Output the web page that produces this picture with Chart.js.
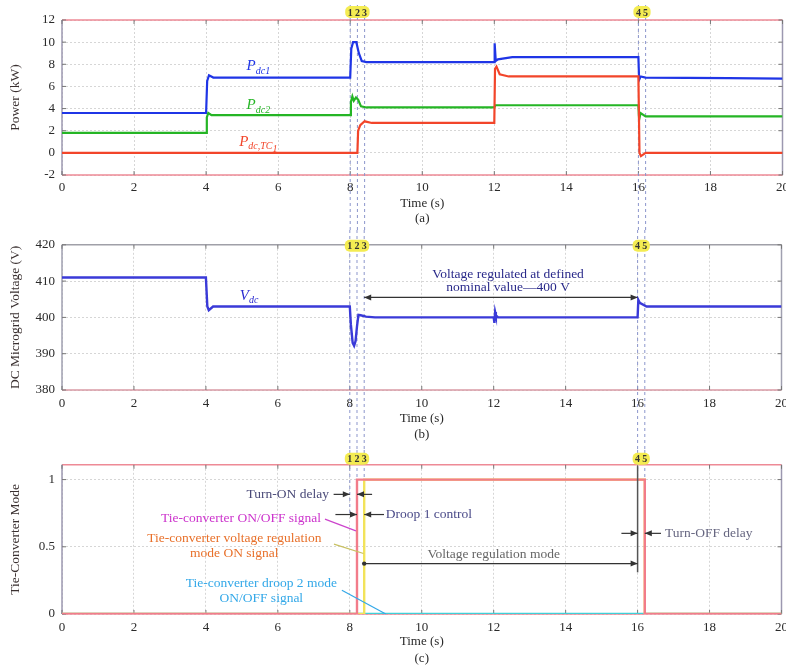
<!DOCTYPE html>
<html lang="en">
<head>
<meta charset="UTF-8">
<title>Tie-converter mode simulation</title>
<script src="https://cdn.jsdelivr.net/npm/chart.js@4.4.1/dist/chart.umd.min.js"></script>
<style>
  html, body { margin: 0; padding: 0; background: #fff; }
  body { width: 786px; height: 671px; overflow: hidden; position: relative; }
  canvas { position: absolute; left: 0; }
</style>
</head>
<body>
<canvas id="chartA" width="794" height="230" style="top:0"></canvas>
<canvas id="chartB" width="794" height="220" style="top:230px"></canvas>
<canvas id="chartC" width="794" height="221" style="top:450px"></canvas>
<script>
// ---- values ----
const timeTicks = [0, 2, 4, 6, 8, 10, 12, 14, 16, 18, 20];
const powerTicks = [-2, 0, 2, 4, 6, 8, 10, 12];
const voltTicks = [380, 390, 400, 410, 420];
const modeTicks = [0, 0.5, 1];

// (a) power, kW
const pdc1Time = [0, 4, 4.03, 4.08, 4.2, 8, 8.03, 8.08, 8.17, 8.24, 8.32, 8.45, 12, 12.01, 12.04, 12.1, 12.5, 16, 16.02, 16.06, 16.2, 18.5, 20];
const pdc1Val  = [3.6, 3.6, 6.5, 7.0, 6.8, 6.8, 9.4, 10.0, 10.0, 9.0, 8.3, 8.2, 8.2, 9.9, 8.3, 8.45, 8.65, 8.65, 6.6, 6.9, 6.8, 6.75, 6.7];
const pdc2Time = [0, 4, 4.02, 4.06, 4.15, 8, 8.02, 8.06, 8.1, 8.16, 8.22, 8.3, 8.45, 12, 12.03, 12.3, 16, 16.02, 16.06, 16.2, 20];
const pdc2Val  = [1.8, 1.8, 3.2, 3.6, 3.4, 3.4, 4.6, 5.1, 4.7, 5.0, 4.8, 4.2, 4.1, 4.1, 4.3, 4.3, 4.3, 3.0, 3.6, 3.3, 3.3];
const ptcTime  = [0, 8.2, 8.22, 8.28, 8.4, 8.6, 12, 12.02, 12.06, 12.15, 12.4, 16, 16.03, 16.07, 16.2, 20];
const ptcVal   = [0, 0, 2.0, 2.5, 2.85, 2.7, 2.7, 7.6, 7.8, 7.1, 6.9, 6.9, 0, -0.3, 0, 0];

// (b) DC microgrid voltage, V
const vdcTime = [0, 4, 4.04, 4.08, 4.2, 8, 8.03, 8.08, 8.12, 8.16, 8.2, 8.24, 8.3, 8.45, 8.7, 12, 12.02, 12.04, 12.06, 12.12, 16, 16.02, 16.06, 16.25, 20];
const vdcVal  = [411, 411, 403, 402, 403, 403, 398, 393, 392.2, 393.5, 397.5, 400.7, 400.6, 400.2, 400, 400, 398.5, 401.5, 400.6, 400, 400, 404.8, 404, 403, 403];

// (c) tie-converter mode signals
const onOffTime  = [0, 8.2, 8.2, 16.2, 16.2, 20];
const onOffVal   = [0, 0, 1, 1, 0, 0];
const vregTime   = [0, 8.4, 8.4, 16.2, 16.2, 20];
const vregVal    = [0, 0, 1, 1, 0, 0];
const droop2Time = [0, 20];
const droop2Val  = [0, 0];

// event instants 1..5
const eventTimes = [8, 8.2, 8.4, 16, 16.2];
const eventLabels = ['1', '2', '3', '4', '5'];
const eventGroups = [[0, 1, 2], [3, 4]];

const SERIF = "'Liberation Serif', 'DejaVu Serif', serif";

function pts(t, v) { return t.map((x, i) => ({ x: x, y: v[i] })); }

function arrowHead(ctx, x1, y1, x2, y2) {
    const a = Math.atan2(y2 - y1, x2 - x1);
    ctx.beginPath();
    ctx.moveTo(x2, y2);
    ctx.lineTo(x2 - 7 * Math.cos(a) + 3 * Math.sin(a), y2 - 7 * Math.sin(a) - 3 * Math.cos(a));
    ctx.lineTo(x2 - 7 * Math.cos(a) - 3 * Math.sin(a), y2 - 7 * Math.sin(a) + 3 * Math.cos(a));
    ctx.closePath();
    ctx.fill();
}

// plot frame + inward ticks
const framePlugin = {
    id: 'frame',
    beforeDatasetsDraw(chart, args, opts) {
        const { ctx, chartArea: a, scales: { x, y } } = chart;
        ctx.save();
        ctx.lineWidth = 1.5;
        const seg = (x1, y1, x2, y2, c) => { ctx.strokeStyle = c; ctx.beginPath(); ctx.moveTo(x1, y1); ctx.lineTo(x2, y2); ctx.stroke(); };
        seg(a.left, a.top, a.right, a.top, opts.top);
        seg(a.left, a.bottom, a.right, a.bottom, opts.bottom);
        seg(a.left, a.top, a.left, a.bottom, opts.side);
        seg(a.right, a.top, a.right, a.bottom, opts.side);
        ctx.lineWidth = 1;
        x.ticks.forEach(tk => {
            const px = x.getPixelForValue(tk.value);
            seg(px, a.bottom, px, a.bottom - 4, '#777');
            seg(px, a.top, px, a.top + 4, '#777');
        });
        y.ticks.forEach(tk => {
            const py = y.getPixelForValue(tk.value);
            seg(a.left, py, a.left + 4, py, '#777');
            seg(a.right, py, a.right - 4, py, '#777');
        });
        ctx.restore();
    }
};

// dashed event lines and the numbered yellow tags
const eventPlugin = {
    id: 'events',
    beforeDatasetsDraw(chart, args, opts) {
        const { ctx, scales: { x, y } } = chart;
        ctx.save();
        ctx.setLineDash([3, 3]);
        ctx.strokeStyle = '#8c96cc';
        ctx.lineWidth = 1;
        eventTimes.forEach((t, i) => {
            const px = x.getPixelForValue(t);
            const end = opts.stop ? y.getPixelForValue(opts.stop[i]) : chart.height;
            ctx.beginPath(); ctx.moveTo(px, opts.from); ctx.lineTo(px, end); ctx.stroke();
        });
        ctx.restore();
    },
    afterDraw(chart, args, opts) {
        const { ctx, chartArea: a, scales: { x } } = chart;
        ctx.save();
        const cy = a.top + opts.tag;
        eventGroups.forEach(g => {
            const x0 = x.getPixelForValue(eventTimes[g[0]]) - 5;
            const x1 = x.getPixelForValue(eventTimes[g[g.length - 1]]) + 5;
            ctx.fillStyle = '#f4ec52';
            ctx.beginPath();
            ctx.roundRect(x0, cy - 6, x1 - x0, 12, 5);
            ctx.fill();
            ctx.fillStyle = '#333';
            ctx.font = 'bold 10px ' + SERIF;
            ctx.textAlign = 'center';
            ctx.textBaseline = 'middle';
            g.forEach(i => ctx.fillText(eventLabels[i], x.getPixelForValue(eventTimes[i]), cy + 1));
        });
        ctx.restore();
    }
};

// text, arrows and leader lines
const notePlugin = {
    id: 'notes',
    afterDatasetsDraw(chart, args, opts) {
        const { ctx, scales: { x, y } } = chart;
        const X = t => x.getPixelForValue(t), Y = v => y.getPixelForValue(v);
        ctx.save();
        (opts.lines || []).forEach(l => {
            ctx.strokeStyle = l.color; ctx.lineWidth = l.width || 1.2;
            ctx.beginPath(); ctx.moveTo(X(l.t1), Y(l.v1)); ctx.lineTo(X(l.t2), Y(l.v2)); ctx.stroke();
        });
        (opts.arrows || []).forEach(r => {
            const x1 = X(r.t1), x2 = X(r.t2), py = Y(r.v);
            ctx.strokeStyle = r.color; ctx.fillStyle = r.color; ctx.lineWidth = 1.2;
            ctx.beginPath(); ctx.moveTo(x1, py); ctx.lineTo(x2, py); ctx.stroke();
            arrowHead(ctx, x1, py, x2, py);
            if (r.both) arrowHead(ctx, x2, py, x1, py);
            if (r.dot) { ctx.beginPath(); ctx.arc(x1, py, 2.2, 0, Math.PI * 2); ctx.fill(); }
        });
        ctx.textBaseline = 'middle';
        (opts.texts || []).forEach(s => {
            ctx.font = (s.size || 13.5) + 'px ' + SERIF;
            ctx.fillStyle = s.color;
            ctx.textAlign = s.align || 'center';
            ctx.fillText(s.text, X(s.t), Y(s.v));
        });
        (opts.symbols || []).forEach(s => {
            ctx.fillStyle = s.color;
            ctx.textAlign = 'left';
            const big = 'italic 15px ' + SERIF, small = 'italic 10px ' + SERIF;
            ctx.font = big; const w0 = ctx.measureText(s.main).width;
            ctx.font = small; const w1 = ctx.measureText(s.sub).width;
            const w2 = s.sub2 ? ctx.measureText(s.sub2).width : 0;
            let px = X(s.t) - (w0 + w1 + w2) / 2;
            const py = Y(s.v);
            ctx.font = big; ctx.fillText(s.main, px, py);
            ctx.font = small; ctx.fillText(s.sub, px + w0, py + 5);
            if (s.sub2) ctx.fillText(s.sub2, px + w0 + w1, py + 8);
        });
        ctx.restore();
    }
};

function baseOptions(cfg) {
    return {
        responsive: false,
        animation: false,
        events: [],
        layout: { padding: { top: cfg.padTop, right: 10, left: 0, bottom: 0 } },
        elements: { point: { radius: 0 }, line: { tension: 0 } },
        plugins: {
            legend: { display: false },
            tooltip: { enabled: false },
            frame: cfg.frame,
            events: cfg.events,
            notes: cfg.notes
        },
        scales: {
            x: {
                type: 'linear', min: 0, max: 20,
                afterBuildTicks: s => { s.ticks = timeTicks.map(v => ({ value: v })); },
                afterFit: s => { s.height = cfg.xHeight; },
                ticks: { font: { family: SERIF, size: 13 }, color: '#2a2a2a', padding: cfg.tickPad, maxRotation: 0 },
                grid: { color: '#d6d6d6', drawTicks: false },
                border: { display: false, dash: [2, 2] },
                title: {
                    display: true, text: ['Time (s)', cfg.caption], color: '#2a2a2a',
                    font: { family: SERIF, size: 13, lineHeight: cfg.lh },
                    padding: { top: 0, bottom: cfg.titlePad }
                }
            },
            y: {
                min: cfg.yMin, max: cfg.yMax,
                afterBuildTicks: s => { s.ticks = cfg.yTicks.map(v => ({ value: v })); },
                afterFit: s => { s.width = 62; },
                ticks: { font: { family: SERIF, size: 13 }, color: '#2a2a2a', padding: 7, callback: v => String(v) },
                grid: { color: '#d6d6d6', drawTicks: false },
                border: { display: false, dash: [2, 2] },
                title: {
                    display: true, text: cfg.yTitle, color: '#3a3030',
                    font: { family: SERIF, size: 13.5 },
                    padding: { top: 7, bottom: 0 }
                }
            }
        }
    };
}

const allPlugins = [framePlugin, eventPlugin, notePlugin];
const pinkFrame = { top: '#ee8a96', bottom: '#ee8a96', side: '#9c98b0' };

// (a) power
new Chart(document.getElementById('chartA'), {
    type: 'line',
    data: {
        datasets: [
            { data: pts(ptcTime, ptcVal), borderColor: '#f2452a', borderWidth: 2.2 },
            { data: pts(pdc2Time, pdc2Val), borderColor: '#25b525', borderWidth: 2.2 },
            { data: pts(pdc1Time, pdc1Val), borderColor: '#1f35e6', borderWidth: 2.2 }
        ]
    },
    options: baseOptions({
        padTop: 20, xHeight: 55, tickPad: 5, lh: 1.15, titlePad: 4,
        caption: '(a)', yMin: -2, yMax: 12, yTicks: powerTicks, yTitle: 'Power (kW)',
        frame: pinkFrame,
        events: { from: 5, tag: -8 },
        notes: {
            symbols: [
                { t: 5.45, v: 7.8, main: 'P', sub: 'dc1', color: '#1f35e6' },
                { t: 5.45, v: 4.3, main: 'P', sub: 'dc2', color: '#25b525' },
                { t: 5.45, v: 1.0, main: 'P', sub: 'dc,TC', sub2: '1', color: '#f2452a' }
            ]
        }
    }),
    plugins: allPlugins
});

// (b) DC microgrid voltage
new Chart(document.getElementById('chartB'), {
    type: 'line',
    data: {
        datasets: [
            { data: pts(vdcTime, vdcVal), borderColor: '#3a3ad8', borderWidth: 2.4 }
        ]
    },
    options: baseOptions({
        padTop: 11, xHeight: 60, tickPad: 6, lh: 1.2, titlePad: 8,
        caption: '(b)', yMin: 380, yMax: 420, yTicks: voltTicks, yTitle: 'DC Microgrid Voltage (V)',
        frame: { top: '#a0a0a8', bottom: '#d89aa4', side: '#a0a0b0' },
        events: { from: 0, tag: 1 },
        notes: {
            symbols: [{ t: 5.2, v: 406, main: 'V', sub: 'dc', color: '#2a2ad0' }],
            arrows: [{ t1: 8.4, t2: 16, v: 405.5, color: '#333', both: true }],
            texts: [
                { t: 12.4, v: 411.9, text: 'Voltage regulated at defined', color: '#2a2a8a' },
                { t: 12.4, v: 408.2, text: 'nominal value\u2014400 V', color: '#2a2a8a' }
            ]
        }
    }),
    plugins: allPlugins
});

// (c) tie-converter mode
new Chart(document.getElementById('chartC'), {
    type: 'line',
    data: {
        datasets: [
            { data: pts(onOffTime, onOffVal), borderColor: '#f27c8a', borderWidth: 2.4 },
            { data: pts(vregTime, vregVal), borderColor: '#f2e35a', borderWidth: 2.4 },
            { data: pts(droop2Time, droop2Val), borderColor: '#3fd0d8', borderWidth: 2.4 }
        ]
    },
    options: baseOptions({
        padTop: 13, xHeight: 57, tickPad: 6, lh: 1.3, titlePad: 4,
        caption: '(c)', yMin: 0, yMax: 1.11, yTicks: modeTicks, yTitle: 'Tie-Converter Mode',
        frame: pinkFrame,
        events: { from: 0, tag: -6, stop: [0.75, 1, 1, 1, 1] },
        notes: {
            lines: [
                { t1: 16, v1: 1.1, t2: 16, v2: 0.31, color: '#555', width: 1.5 },
                { t1: 7.31, v1: 0.706, t2: 8.17, v2: 0.618, color: '#cc44cc' },
                { t1: 7.56, v1: 0.52, t2: 8.38, v2: 0.45, color: '#c8c060' },
                { t1: 7.78, v1: 0.176, t2: 9.0, v2: 0, color: '#33a8e8' }
            ],
            arrows: [
                { t1: 7.55, t2: 8.0, v: 0.89, color: '#333' },
                { t1: 8.62, t2: 8.2, v: 0.89, color: '#333' },
                { t1: 7.6, t2: 8.2, v: 0.74, color: '#333' },
                { t1: 8.95, t2: 8.4, v: 0.74, color: '#333' },
                { t1: 8.4, t2: 16, v: 0.375, color: '#333', dot: true },
                { t1: 15.55, t2: 16, v: 0.6, color: '#333' },
                { t1: 16.65, t2: 16.2, v: 0.6, color: '#333' }
            ],
            texts: [
                { t: 7.42, v: 0.89, text: 'Turn-ON delay', color: '#4a4a78', align: 'right' },
                { t: 9.0, v: 0.74, text: 'Droop 1 control', color: '#4a4a88', align: 'left' },
                { t: 7.2, v: 0.713, text: 'Tie-converter ON/OFF signal', color: '#cc33cc', align: 'right' },
                { t: 4.79, v: 0.559, text: 'Tie-converter voltage regulation', color: '#e8702a' },
                { t: 4.79, v: 0.449, text: 'mode ON signal', color: '#e8702a' },
                { t: 5.54, v: 0.228, text: 'Tie-converter droop 2 mode', color: '#33a8e8' },
                { t: 5.54, v: 0.118, text: 'ON/OFF signal', color: '#33a8e8' },
                { t: 12.0, v: 0.44, text: 'Voltage regulation mode', color: '#666' },
                { t: 16.76, v: 0.6, text: 'Turn-OFF delay', color: '#666680', align: 'left' }
            ]
        }
    }),
    plugins: allPlugins
});
</script>
</body>
</html>
